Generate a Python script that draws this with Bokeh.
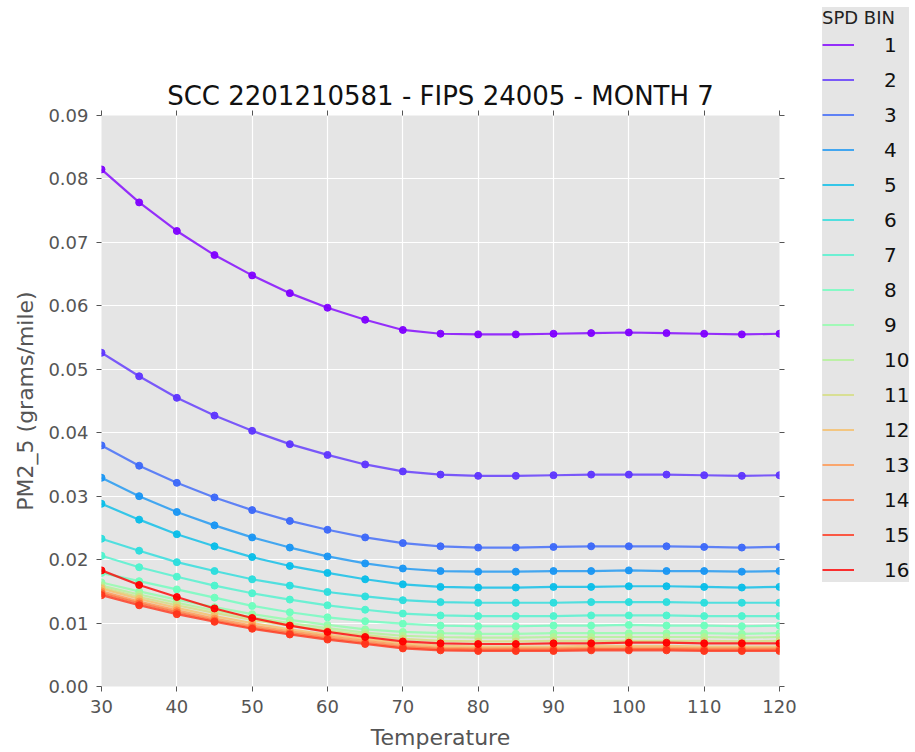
import numpy as np
from bokeh.plotting import figure
from bokeh.layouts import row, column
from bokeh.models import (Range1d, LinearAxis, Legend, LegendItem, FixedTicker,
                          PrintfTickFormatter, CustomJSTickFormatter, ColumnDataSource)
from bokeh.embed import file_html
from bokeh.resources import INLINE

temps = [30, 35, 40, 45, 50, 55, 60, 65, 70, 75, 80, 85, 90, 95, 100, 105, 110, 115, 120]
spd_bins = [str(i) for i in range(1, 17)]

s1 = [0.0815, 0.0763, 0.0718, 0.0680, 0.0648, 0.0620, 0.0597, 0.0578, 0.0562, 0.0556, 0.0555, 0.0555, 0.0556, 0.0557, 0.0558, 0.0557, 0.0556, 0.0555, 0.0556]
s2 = [0.0526, 0.0489, 0.0455, 0.0427, 0.0403, 0.0382, 0.0365, 0.0350, 0.0339, 0.0334, 0.0332, 0.0332, 0.0333, 0.0334, 0.0334, 0.0334, 0.0333, 0.0332, 0.0333]
s3 = [0.0380, 0.0348, 0.0321, 0.0298, 0.0278, 0.0261, 0.0247, 0.0235, 0.0226, 0.0221, 0.0219, 0.0219, 0.0220, 0.0221, 0.0221, 0.0221, 0.0220, 0.0219, 0.0220]
s4 = [0.0329, 0.0300, 0.0275, 0.0254, 0.0235, 0.0219, 0.0205, 0.0194, 0.0186, 0.0182, 0.0181, 0.0181, 0.0182, 0.0182, 0.0183, 0.0182, 0.0182, 0.0181, 0.0182]
s5 = [0.0288, 0.0263, 0.0240, 0.0221, 0.0204, 0.0190, 0.0179, 0.0169, 0.0161, 0.0157, 0.0156, 0.0156, 0.0157, 0.0157, 0.0158, 0.0158, 0.0157, 0.0156, 0.0157]
s6 = [0.0233, 0.0214, 0.0196, 0.0182, 0.0169, 0.0159, 0.0149, 0.0142, 0.0136, 0.0133, 0.0132, 0.0132, 0.0132, 0.0133, 0.0133, 0.0133, 0.0132, 0.0132, 0.0132]
s7 = [0.0206, 0.0188, 0.0173, 0.0159, 0.0147, 0.0137, 0.0128, 0.0121, 0.0115, 0.0112, 0.0111, 0.0111, 0.0111, 0.0112, 0.0112, 0.0112, 0.0111, 0.0111, 0.0111]
s8 = [0.0179, 0.0166, 0.0153, 0.0140, 0.0127, 0.0117, 0.0109, 0.0103, 0.0099, 0.0096, 0.0095, 0.0095, 0.0096, 0.0096, 0.0097, 0.0096, 0.0096, 0.0095, 0.0096]
s9 = [0.0164, 0.0150, 0.0137, 0.0125, 0.0114, 0.0105, 0.0097, 0.0090, 0.0086, 0.0084, 0.0083, 0.0083, 0.0084, 0.0084, 0.0084, 0.0084, 0.0084, 0.0083, 0.0084]
s10 = [0.0159, 0.0145, 0.0132, 0.0120, 0.0109, 0.0100, 0.0092, 0.0085, 0.0080, 0.0078, 0.0077, 0.0077, 0.0078, 0.0078, 0.0078, 0.0078, 0.0078, 0.0077, 0.0078]
s11 = [0.0156, 0.0141, 0.0128, 0.0116, 0.0105, 0.0096, 0.0088, 0.0081, 0.0075, 0.0072, 0.0071, 0.0071, 0.0072, 0.0072, 0.0072, 0.0072, 0.0072, 0.0071, 0.0072]
s12 = [0.0154, 0.0138, 0.0124, 0.0111, 0.0100, 0.0090, 0.0082, 0.0075, 0.0068, 0.0064, 0.0063, 0.0063, 0.0063, 0.0064, 0.0064, 0.0064, 0.0063, 0.0063, 0.0063]
s13 = [0.0150, 0.0134, 0.0120, 0.0107, 0.0096, 0.0087, 0.0079, 0.0072, 0.0065, 0.0061, 0.0060, 0.0060, 0.0060, 0.0061, 0.0061, 0.0061, 0.0060, 0.0060, 0.0060]
s14 = [0.0147, 0.0131, 0.0117, 0.0104, 0.0093, 0.0084, 0.0076, 0.0069, 0.0062, 0.0059, 0.0058, 0.0058, 0.0058, 0.0059, 0.0059, 0.0059, 0.0058, 0.0058, 0.0058]
s15 = [0.0144, 0.0128, 0.0114, 0.0102, 0.0091, 0.0082, 0.0074, 0.0067, 0.0060, 0.0057, 0.0056, 0.0056, 0.0056, 0.0057, 0.0057, 0.0057, 0.0056, 0.0056, 0.0056]
s16 = [0.0183, 0.0160, 0.0141, 0.0123, 0.0108, 0.0096, 0.0086, 0.0078, 0.0071, 0.0068, 0.0067, 0.0067, 0.0068, 0.0068, 0.0069, 0.0069, 0.0068, 0.0068, 0.0068]

series = [s1, s2, s3, s4, s5, s6, s7, s8, s9, s10, s11, s12, s13, s14, s15, s16]

x_ticks = [30, 40, 50, 60, 70, 80, 90, 100, 110, 120]
y_ticks = [0.0, 0.01, 0.02, 0.03, 0.04, 0.05, 0.06, 0.07, 0.08, 0.09]


def rainbow(t):
    r = min(1.0, abs(2 * t - 0.5))
    g = max(0.0, np.sin(np.pi * t))
    b = max(0.0, np.cos(np.pi * t / 2))
    return "#%02x%02x%02x" % (int(round(r * 255)), int(round(g * 255)), int(round(b * 255)))


colors = [rainbow(i / 15) for i in range(16)]

FONT = "DejaVu Sans"
GRAY = "#555555"

p = figure(width=815, height=752, output_backend="svg", toolbar_location=None,
           x_range=Range1d(30, 120), y_range=Range1d(0, 0.09),
           min_border_left=101, min_border_right=36, min_border_top=115, min_border_bottom=66,
           background_fill_color="#e5e5e5", border_fill_color="white",
           x_axis_label="Temperature", y_axis_label="PM2_5 (grams/mile)")
p.outline_line_color = None
p.title.text = "SCC 2201210581 - FIPS 24005 - MONTH 7"
p.title.align = "center"
p.title.text_font = FONT
p.title.text_font_size = "26px"
p.title.text_font_style = "normal"
p.title.text_color = "#111111"
p.title.standoff = 0
p.title.offset = 0

p.xgrid.grid_line_color = "white"
p.ygrid.grid_line_color = "white"
p.xgrid.grid_line_width = 1.2
p.ygrid.grid_line_width = 1.2
p.xaxis.ticker = FixedTicker(ticks=x_ticks)
p.yaxis.ticker = FixedTicker(ticks=y_ticks)
p.yaxis.formatter = PrintfTickFormatter(format="%.2f")

for ax in list(p.xaxis) + list(p.yaxis):
    ax.axis_line_color = None
    ax.major_tick_line_color = GRAY
    ax.major_tick_out = 5
    ax.major_tick_in = 0
    ax.minor_tick_line_color = None
    ax.major_label_text_font = FONT
    ax.major_label_text_font_size = "18px"
    ax.major_label_text_color = GRAY
    ax.axis_label_text_font = FONT
    ax.axis_label_text_font_size = "22px"
    ax.axis_label_text_font_style = "normal"
    ax.axis_label_text_color = GRAY
p.xaxis.major_label_standoff = 8
p.xaxis.axis_label_standoff = 9
p.yaxis.major_label_standoff = 8
p.yaxis.axis_label_standoff = 7

blank = CustomJSTickFormatter(code="return ''")
top_ax = LinearAxis(ticker=FixedTicker(ticks=x_ticks), formatter=blank)
right_ax = LinearAxis(ticker=FixedTicker(ticks=y_ticks), formatter=blank)
for ax in (top_ax, right_ax):
    ax.axis_line_color = None
    ax.major_tick_line_color = GRAY
    ax.major_tick_out = 5
    ax.major_tick_in = 0
    ax.minor_tick_line_color = None
    ax.major_label_standoff = 0
p.add_layout(top_ax, "above")
p.add_layout(right_ax, "right")

# legend panel: a separate, axis-less figure on the right
pl = figure(width=100, height=752, output_backend="svg", toolbar_location=None,
            x_range=Range1d(0, 1), y_range=Range1d(0, 1),
            min_border_left=0, min_border_right=0, min_border_top=0, min_border_bottom=0,
            background_fill_color="white", border_fill_color="white")
pl.axis.visible = False
pl.grid.visible = False
pl.outline_line_color = None

items = []
for name, vals, col in zip(spd_bins, series, colors):
    src = ColumnDataSource(dict(x=temps, y=vals))
    p.line("x", "y", source=src, line_color=col, line_width=2.2, line_alpha=0.8)
    p.scatter("x", "y", source=src, size=7, fill_color=col, line_color=col, alpha=0.95)
    proxy = pl.line(x=[-1.0], y=[-1.0], line_color=col, line_width=2, line_alpha=0.8)
    items.append(LegendItem(label=name, renderers=[proxy]))

legend = Legend(items=items, location="top_left", title="SPD BIN")
legend.title_text_font = FONT
legend.title_text_font_size = "18px"
legend.title_text_font_style = "normal"
legend.title_text_color = "#222222"
legend.title_standoff = 4
legend.label_text_font = FONT
legend.label_text_font_size = "20px"
legend.label_text_color = "#111111"
legend.glyph_width = 32
legend.glyph_height = 25
legend.label_height = 25
legend.spacing = 10
legend.padding = 7
legend.margin = 7
legend.label_standoff = 30
legend.background_fill_color = "#e5e5e5"
legend.background_fill_alpha = 1.0
legend.border_line_color = None
pl.add_layout(legend, "center")

open("out.html", "w").write(file_html(row(column(p), column(pl)), INLINE))
